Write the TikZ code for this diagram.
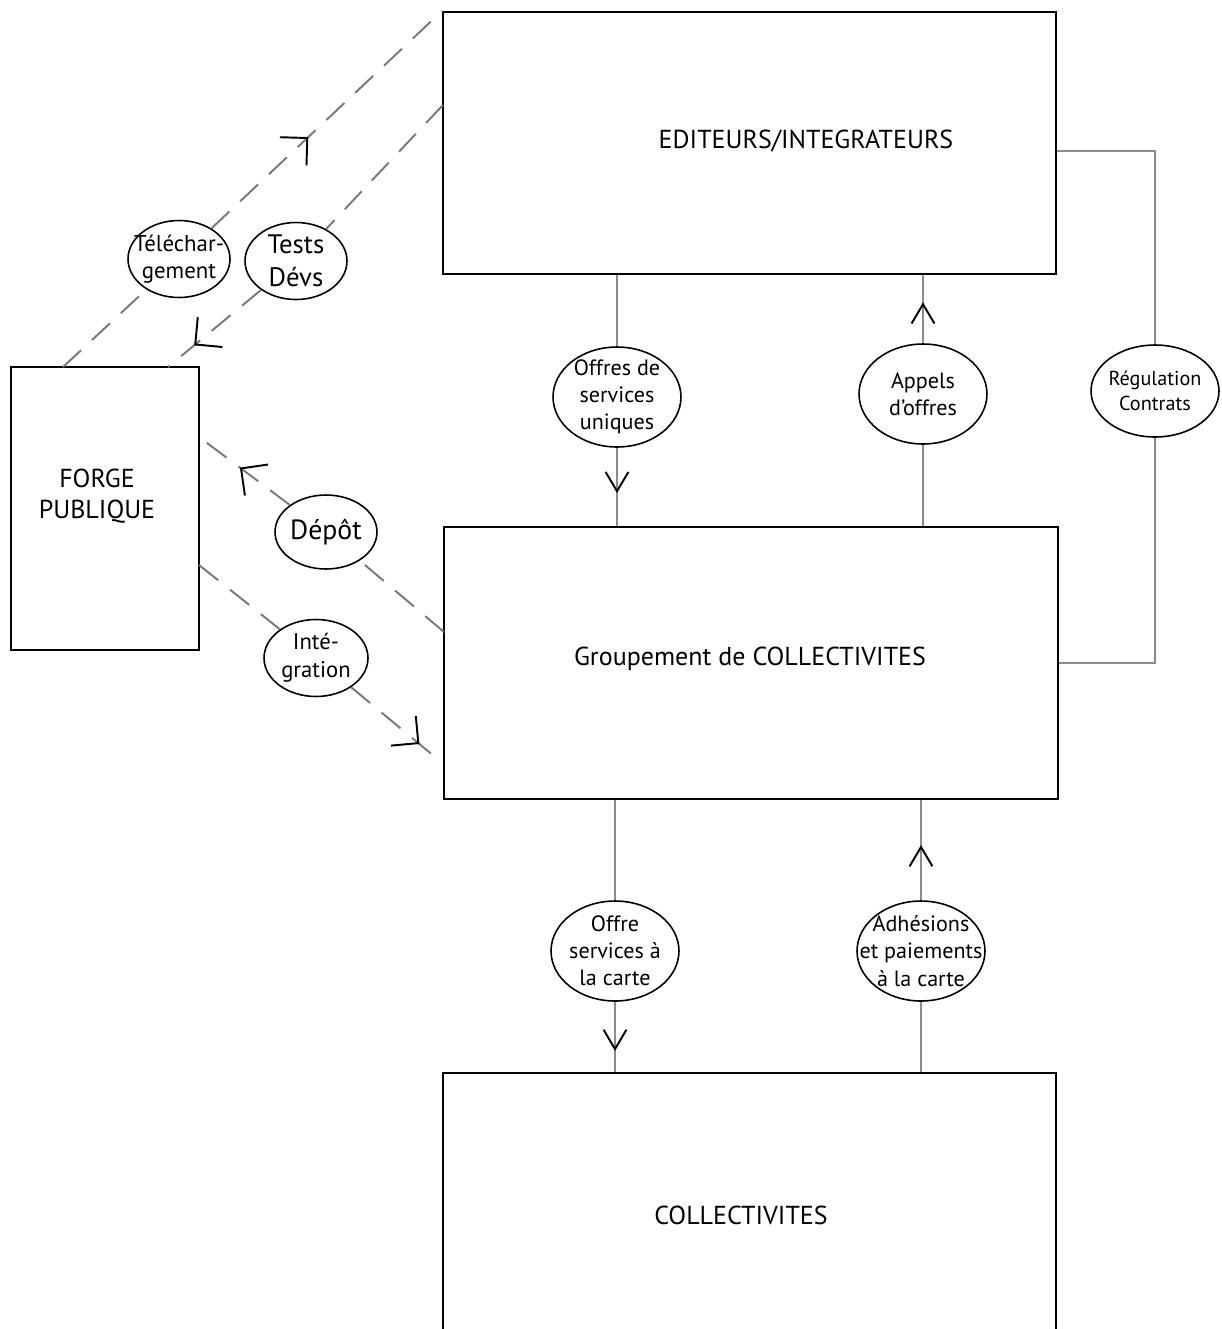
\documentclass[tikz,border=0pt]{standalone}
\usepackage{fontspec}
\setmainfont{PT Sans}
\usepackage{tikz}
\usetikzlibrary{shapes.geometric, arrows.meta, decorations.markings}
\definecolor{TraitGris}{RGB}{140, 140, 140}
\definecolor{TiretGris}{RGB}{120, 120, 120}

\begin{document}
\begin{tikzpicture}[x=0.02cm, y=-0.02cm,
    boite/.style={draw=black, line width=1.2pt, inner sep=0pt},
    titre/.style={font=\fontsize{14.8}{18}\selectfont, align=center},
    bulle/.style={draw=black, line width=0.9pt, ellipse, inner sep=-14pt, fill=white,
      minimum width=2.56cm, minimum height=2cm, align=center,
      font=\fontsize{12.6}{15.5}\selectfont},
    lien/.style={TraitGris, line width=0.6pt},
    tiret/.style={TiretGris, line width=1.1pt, dash pattern=on 14pt off 8.5pt},
    fleche/.style={postaction={decorate}, decoration={markings,
      mark=at position #1 with {\arrow[black]{Straight Barb[length=11pt, width=13pt, line width=1.1pt]}}}},
    coin/.style={postaction={decorate}, decoration={markings,
      mark=at position #1 with {\arrow[black]{Straight Barb[length=11pt, width=22pt, line width=1.1pt]}}}}]
      \clip (0,0) rectangle (1221,1329);

      % Boites
      \node[boite, minimum width=12.26cm, minimum height=5.24cm] (edit) at (749.5,143) {};
      \node[boite, minimum width=12.28cm, minimum height=5.44cm] (grp) at (751,663) {};
      \node[boite, minimum width=12.26cm, minimum height=6cm, anchor=north] (coll) at (749.5,1072) {};
      \node[boite, minimum width=3.76cm, minimum height=5.66cm] (forge) at (105,508.5) {};

      % Titres
      \node[titre] (tedit) at (806,141) {EDITEURS/INTEGRATEURS};
      \node[titre] (tgrp) at (750,659) {Groupement de COLLECTIVITES};
      \node[titre] (tcoll) at (741,1215) {COLLECTIVITES};
      \node[titre] (tforge) at (97,496) {FORGE\\PUBLIQUE};

      % Bulles
      \node[bulle] (offres) at (617,397) {Offres de\\services\\uniques};
      \node[bulle] (appels) at (923,394) {Appels\\d’offres};
      \node[bulle, minimum height=1.84cm, font=\fontsize{11.5}{14}\selectfont] (regul) at (1155,391) {Régulation\\Contrats};
      \node[bulle] (offre) at (615,951) {Offre\\services à\\la carte};
      \node[bulle] (adh) at (921,951) {Adhésions\\et paiements\\à la carte};
      \node[bulle, minimum width=2.04cm, minimum height=1.54cm, font=\fontsize{13}{15.5}\selectfont] (tele) at (179,259) {Téléchar-\\gement};
      \node[bulle, minimum width=2.04cm, minimum height=1.54cm, font=\fontsize{15.2}{18.5}\selectfont] (tests) at (296,261) {Tests\\Dévs};
      \node[bulle, minimum width=2.04cm, minimum height=1.48cm, font=\fontsize{15.8}{19}\selectfont] (depot) at (326,532) {Dépôt};
      \node[bulle, minimum width=2.08cm, minimum height=1.54cm, font=\fontsize{12.9}{16}\selectfont] (integ) at (316,658) {Inté-\\gration};

      % Liens verticaux
      \draw[lien] (offres |- edit.south) -- (offres);
      \draw[lien, fleche=0.58] (offres) -- (offres |- grp.north);
      \draw[lien, fleche=0.6] (appels) -- (appels |- edit.south);
      \draw[lien] (appels |- grp.north) -- (appels);
      \draw[lien] (offre |- grp.south) -- (offre);
      \draw[lien, fleche=0.7] (offre) -- (offre |- coll.north);
      \draw[lien, fleche=0.55] (adh) -- (adh |- grp.south);
      \draw[lien] (adh |- coll.north) -- (adh);

      % Regulation
      \coordinate (r1) at (1155,151);
      \coordinate (r2) at (1155,663);
      \draw[lien] (edit.east |- r1) -- (r1) -- (regul);
      \draw[lien] (regul) -- (r2) -- (grp.east |- r2);

      % Forge
      \coordinate (f1) at (63,367);
      \coordinate (f2) at (168,367);
      \coordinate (f3) at (199,437);
      \coordinate (f4) at (199,565);
      \coordinate (e2) at (443,105);
      \coordinate (g3) at (444,632);
      \coordinate (g4) at (441,762);
      \draw[tiret] (f1) -- (tele);
      \draw[tiret, coin=0.42] (tele) -- (edit.north west);
      \draw[tiret] (e2) -- (tests);
      \draw[tiret, coin=0.72] (tests) -- (f2);
      \draw[tiret] (g3) -- (depot);
      \draw[tiret, coin=0.55] (depot) -- (f3);
      \draw[tiret] (f4) -- (integ);
      \draw[tiret, coin=0.76] (integ) -- (g4);
    \end{tikzpicture}
\end{document}
